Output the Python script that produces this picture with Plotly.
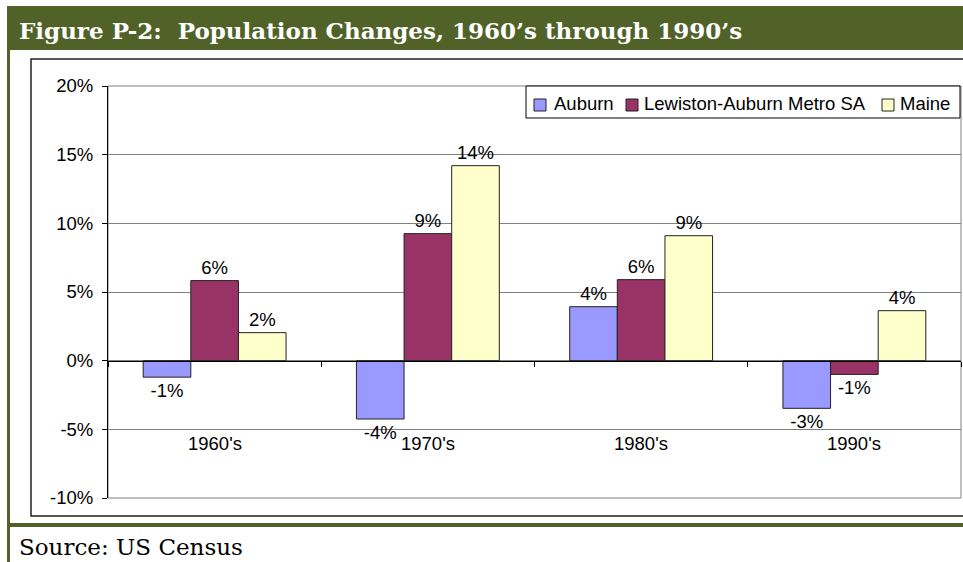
import plotly.graph_objects as go

categories = ["1960's", "1970's", "1980's", "1990's"]
auburn = [-1.2, -4.25, 3.93, -3.47]
lewiston = [5.83, 9.25, 5.9, -1.0]
maine = [2.04, 14.2, 9.1, 3.64]
series_names = ["Auburn", "Lewiston-Auburn Metro SA", "Maine"]
series_colors = ["#9999FF", "#993366", "#FFFFCC"]
y_ticks = [-10, -5, 0, 5, 10, 15, 20]
y_ticktext = ["-10%", "-5%", "0%", "5%", "10%", "15%", "20%"]

W, H = 963, 562
L, R, T, B = 108, 961, 86, 498  # plot area in px
SANS = "Liberation Sans, Arial, sans-serif"
SERIF = "DejaVu Serif, serif"
FS = 18.5


def px(x):
    return (x - L) / (R - L)


def py(y):
    return (B - y) / (B - T)


fig = go.Figure()
for name, vals, col in zip(series_names, [auburn, lewiston, maine], series_colors):
    fig.add_trace(go.Bar(
        name=name, x=categories, y=vals,
        marker=dict(color=col, line=dict(color="#222222", width=1)),
        text=[f"{v:.0f}%" for v in vals], textposition="outside",
        textfont=dict(family=SANS, size=FS, color="black"),
        cliponaxis=False, constraintext="none", hoverinfo="skip",
    ))

shapes = []
# plot area border (gray)
shapes.append(dict(type="rect", xref="paper", yref="paper", x0=0, x1=1, y0=0, y1=1,
                   line=dict(color="#808080", width=1), layer="below"))
# title bar
shapes.append(dict(type="rect", xref="paper", yref="paper", x0=px(7), x1=px(970), y0=py(6), y1=py(50),
                   fillcolor="#506228", line=dict(width=0), layer="below"))
# left green line
shapes.append(dict(type="rect", xref="paper", yref="paper", x0=px(7), x1=px(10), y0=py(6), y1=py(570),
                   fillcolor="#506228", line=dict(width=0), layer="below"))
# bottom green line
shapes.append(dict(type="rect", xref="paper", yref="paper", x0=px(7), x1=px(970), y0=py(523), y1=py(527),
                   fillcolor="#506228", line=dict(width=0), layer="below"))
# outer black box
shapes.append(dict(type="path", xref="paper", yref="paper",
                   path=f"M {px(975)},{py(59)} L {px(31)},{py(59)} L {px(31)},{py(516)} L {px(975)},{py(516)}",
                   line=dict(color="#222222", width=1.5), layer="below"))

# custom legend (box, swatches, labels)
shapes.append(dict(type="rect", xref="paper", yref="paper", x0=px(526), x1=px(960), y0=py(86), y1=py(118),
                   fillcolor="white", line=dict(color="black", width=1)))
swatch_x = [534, 626, 882]
label_x = [552, 642, 898]
annotations = []
for sx, lx, name, col in zip(swatch_x, label_x, series_names, series_colors):
    shapes.append(dict(type="rect", xref="paper", yref="paper", x0=px(sx), x1=px(sx + 12),
                       y0=py(99), y1=py(111), fillcolor=col, line=dict(color="#222222", width=1)))
    annotations.append(dict(xref="paper", yref="paper", x=px(lx), y=py(103), xanchor="left", yanchor="middle",
                            text=name, showarrow=False, font=dict(family=SANS, size=FS, color="black")))

annotations += [
    dict(xref="paper", yref="paper", x=px(17), y=py(30), xanchor="left", yanchor="middle",
         text="<b>Figure P-2:  Population Changes, 1960\u2019s through 1990\u2019s</b>", showarrow=False,
         font=dict(family=SERIF, size=23, color="white")),
    dict(xref="paper", yref="paper", x=px(17), y=py(547), xanchor="left", yanchor="middle",
         text="Source: US Census", showarrow=False,
         font=dict(family=SERIF, size=23, color="black")),
]
for c in categories:
    annotations.append(dict(x=c, y=-6, xref="x", yref="y", text=c, showarrow=False,
                            font=dict(family=SANS, size=FS, color="black")))

fig.update_layout(
    width=W, height=H,
    margin=dict(l=L, r=W - R, t=T, b=H - B, pad=0),
    paper_bgcolor="white", plot_bgcolor="white",
    barmode="group", bargap=0.33, bargroupgap=0,
    font=dict(family=SANS, size=FS, color="black"),
    showlegend=False, hovermode=False,
    xaxis=dict(anchor="free", position=1 / 3, showticklabels=False, showgrid=False,
               showline=True, linecolor="black", linewidth=1,
               ticks="outside", tickson="boundaries", ticklen=5, tickcolor="black", zeroline=False),
    yaxis=dict(range=[-10, 20], tickvals=y_ticks, ticktext=y_ticktext,
               showgrid=True, gridcolor="#808080", gridwidth=1,
               showline=True, linecolor="black", linewidth=1,
               ticks="outside", ticklen=5, tickcolor="black", zeroline=False,
               ticklabelstandoff=5, tickfont=dict(size=FS)),
    shapes=shapes, annotations=annotations,
)

fig.write_html("out.html", config={"displayModeBar": False, "staticPlot": True},
               post_script="document.body.style.margin='0';document.body.style.overflow='hidden';")
